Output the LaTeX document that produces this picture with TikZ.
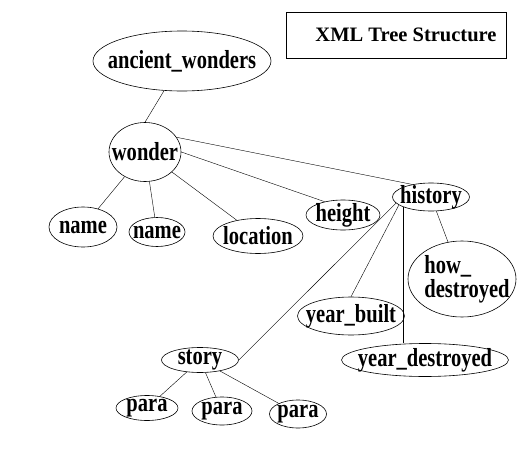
\documentclass[tikz,border=0pt]{standalone}
\usepackage{fontspec}
\setmainfont{Liberation Serif}
\newfontfamily\tagfont[FakeStretch=0.79]{Liberation Serif}
\usetikzlibrary{shapes.geometric}

\begin{document}
\begin{tikzpicture}[x=1pt, y=-1pt,
    every node/.style={font=\tagfont\bfseries\fontsize{26}{24}\selectfont},
    tag/.style={ellipse, draw, line width=0.6pt, inner sep=0pt}]
	  \useasboundingbox (0, 0) rectangle (531, 466);
	  % title box
	  \node[draw, line width=0.6pt, minimum width=220pt, minimum height=46pt,
	    font=\rmfamily\bfseries\fontsize{20.5}{24}\selectfont] (title) at (396, 35) {\hspace{20pt}XML Tree Structure};
	  % root and wonder
	  \node[tag, minimum width=178pt, minimum height=60pt, label=center:ancient\_wonders] (ancient) at (182, 61) {};
	  \node[tag, minimum width=72pt, minimum height=59pt, label=center:wonder] (wonder) at (145, 152) {};
	  % children of wonder
	  \node[tag, minimum width=68pt, minimum height=40pt, label=center:name] (nameA) at (83, 227) {};
	  \node[tag, minimum width=56pt, minimum height=29pt, label=center:name] (nameB) at (157, 232) {};
	  \node[tag, minimum width=90pt, minimum height=35pt, label=center:location] (location) at (258, 236) {};
	  \node[tag, minimum width=74pt, minimum height=30pt, label=center:height] (height) at (343, 215) {};
	  \node[tag, minimum width=77pt, minimum height=28pt, label=center:history] (history) at (431, 197) {};
	  % children of history
	  \node[tag, minimum width=108pt, minimum height=76pt, label={[align=left, xshift=5pt]center:how\_\\destroyed}] (howdestroyed) at (462, 279) {};
	  \node[tag, minimum width=107pt, minimum height=38pt, label=center:year\_built] (yearbuilt) at (351, 316) {};
	  \node[tag, minimum width=167pt, minimum height=33pt, label=center:year\_destroyed] (yeardestroyed) at (425, 360) {};
	  \node[tag, minimum width=77pt, minimum height=25pt, label=center:story] (story) at (200, 360) {};
	  % children of story
	  \node[tag, minimum width=62pt, minimum height=25pt, label=center:para] (paraA) at (147, 408) {};
	  \node[tag, minimum width=60pt, minimum height=28pt, label=center:para] (paraB) at (222, 411) {};
	  \node[tag, minimum width=57pt, minimum height=28pt, label=center:para] (paraC) at (298, 414) {};
	  % links
	  \draw (ancient) -- (wonder.north);
	  \draw (wonder) -- (nameA);
	  \draw (wonder) -- (nameB);
	  \draw (wonder) -- (location);
	  \draw (wonder.east) -- (height.144);
	  \draw (wonder.25) -- (history.146);
	  \draw (history) -- (howdestroyed);
	  \draw (history.194) -- (yearbuilt.north);
	  \draw (history.200) -- (history.200 |- yeardestroyed.north);
	  \draw (history.190) -- (story.east);
	  \draw (story) -- (paraA);
	  \draw (story) -- (paraB);
	  \draw (story) -- (paraC);
\end{tikzpicture}
\end{document}
